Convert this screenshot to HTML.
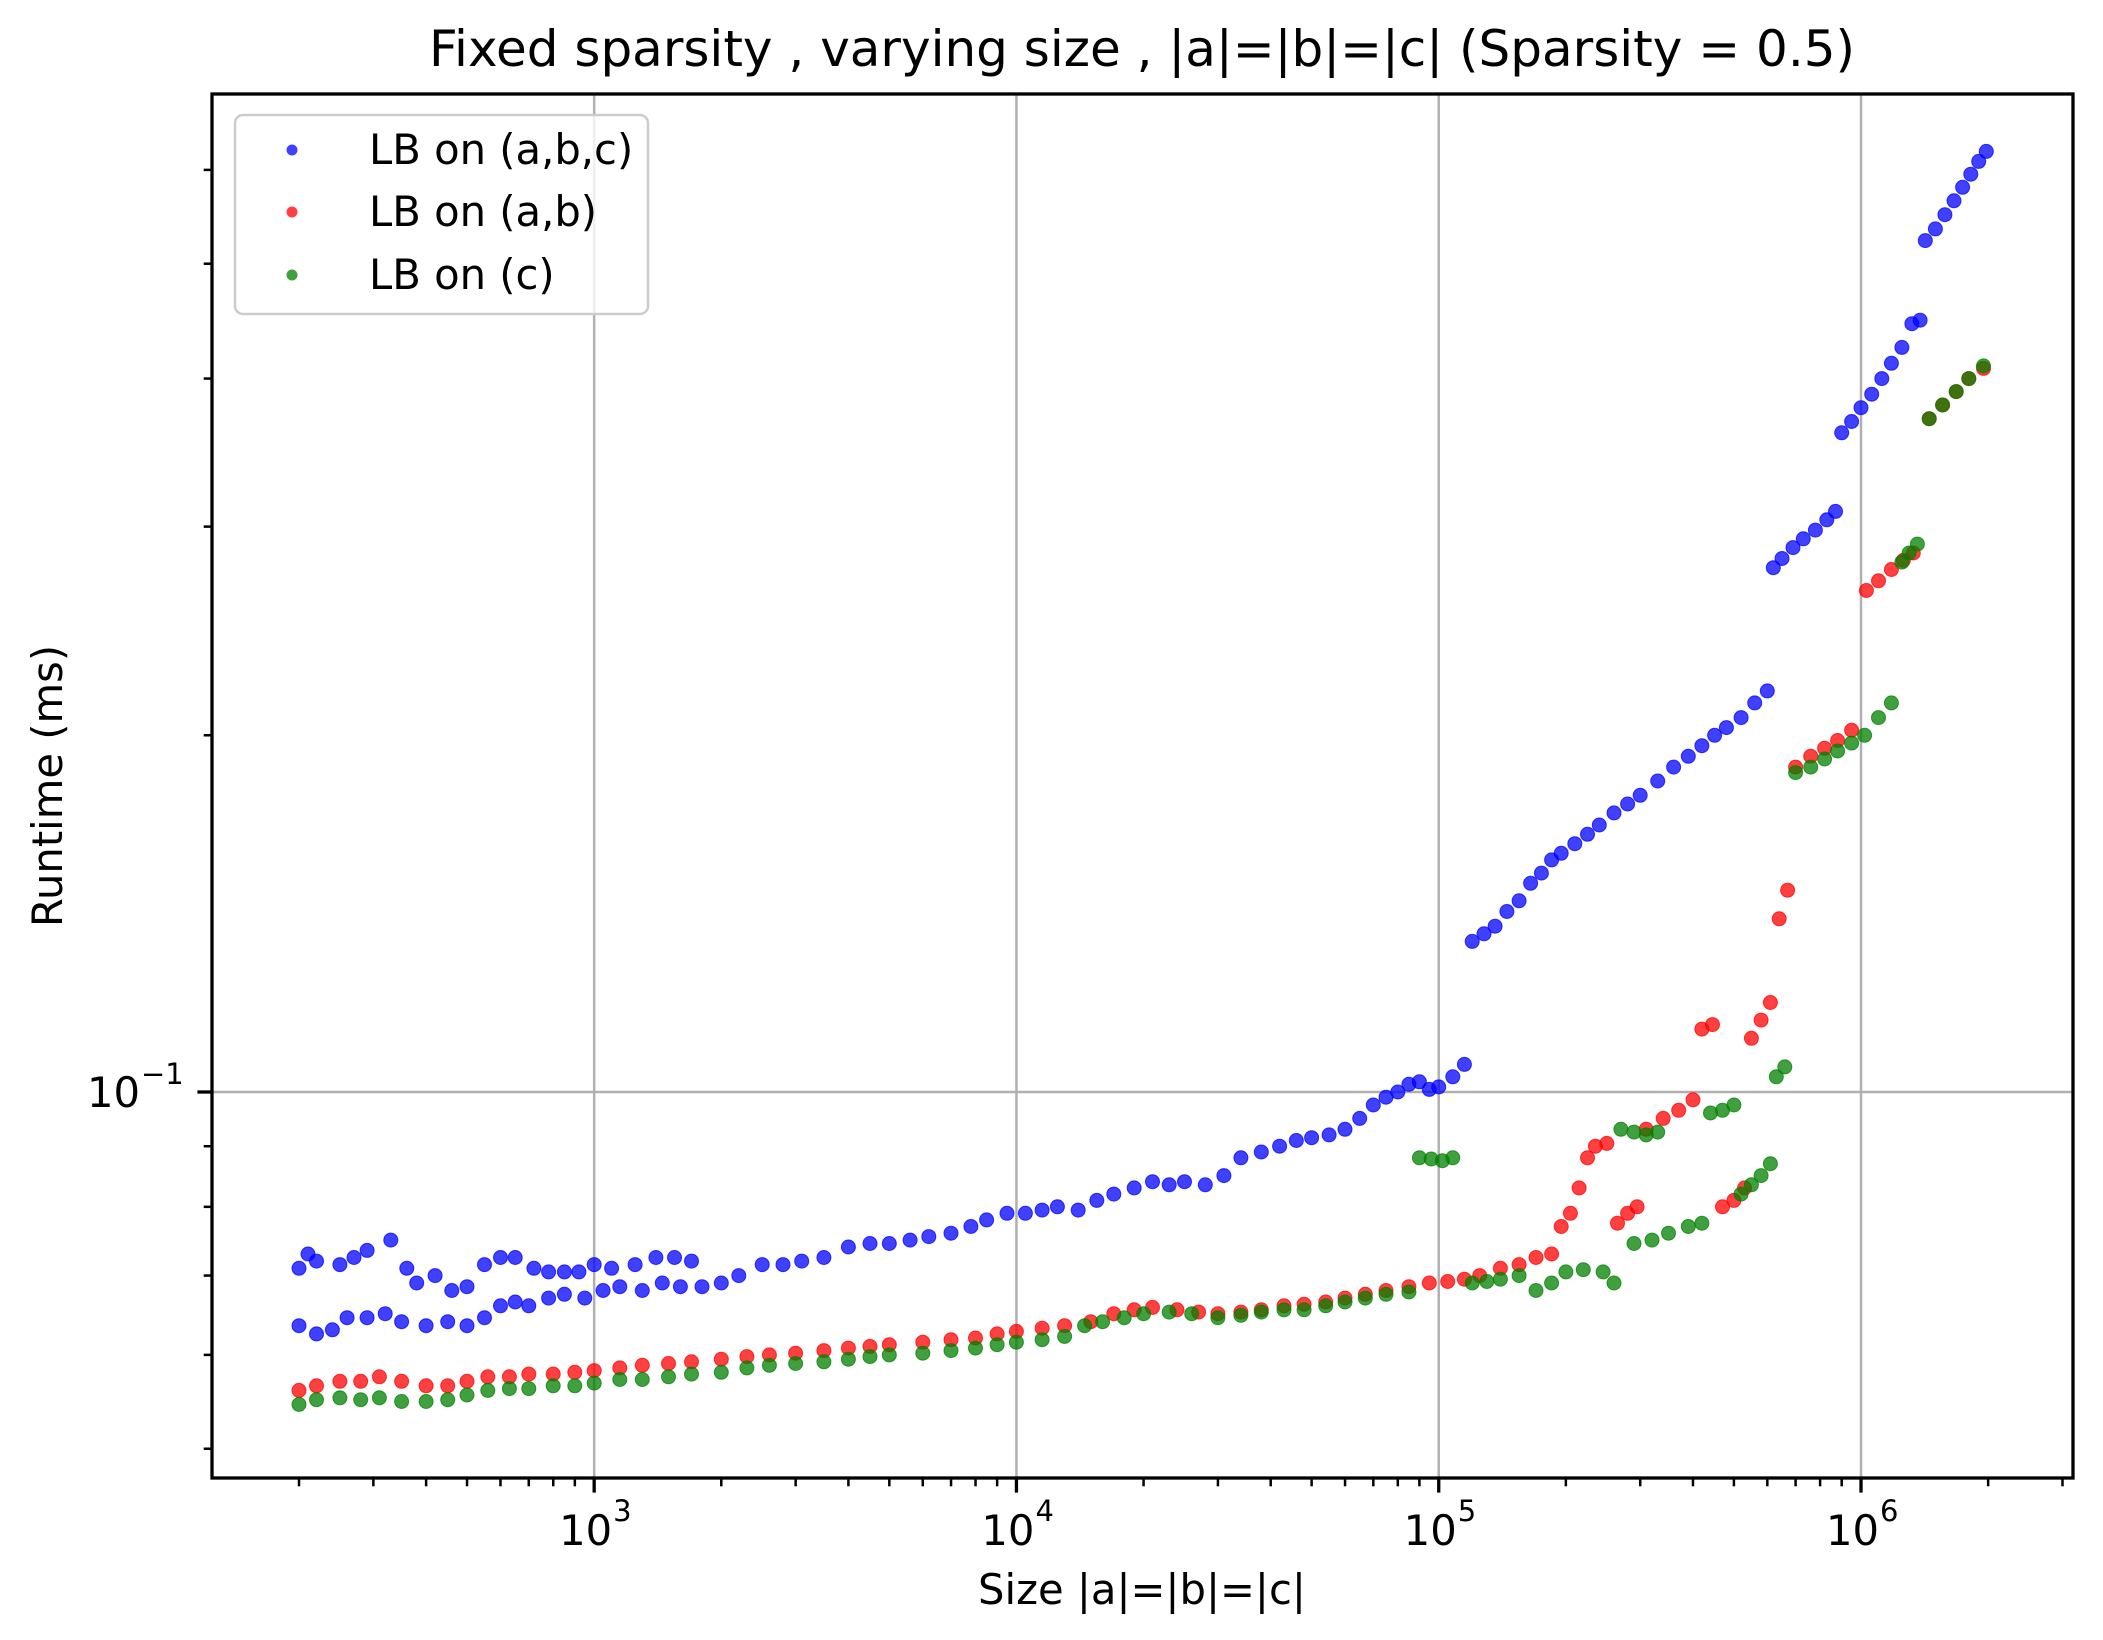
<!DOCTYPE html>
<html><head><meta charset="utf-8"><style>
html,body{margin:0;padding:0;background:#fff}
svg{display:block;font-family:"DejaVu Sans","Liberation Sans",sans-serif}
</style></head><body>
<svg id="chart" width="2103" height="1640" viewBox="0 0 2103 1640" xmlns="http://www.w3.org/2000/svg">
<rect width="2103" height="1640" fill="#fff"/>
<text x="1142" y="66" font-size="50" text-anchor="middle">Fixed sparsity , varying size , |a|=|b|=|c| (Sparsity = 0.5)</text>
<g id="grid"></g>
<g id="marks"></g>
<g id="axes"></g>
<text x="1142" y="1604" font-size="41.7" text-anchor="middle">Size |a|=|b|=|c|</text>
<text x="0" y="0" font-size="41.7" text-anchor="middle" transform="translate(62,786) rotate(-90)">Runtime (ms)</text>
<g id="legend">
<rect x="235" y="115" width="413" height="199" rx="8" fill="#fff" fill-opacity="0.8" stroke="#cccccc" stroke-width="2.5"/>
<circle cx="292" cy="150" r="5.5" fill="#0000ff" fill-opacity="0.75"/>
<text x="369" y="164" font-size="41.7">LB on (a,b,c)</text>
<circle cx="292" cy="212" r="5.5" fill="#ff0000" fill-opacity="0.75"/>
<text x="369" y="226" font-size="41.7">LB on (a,b)</text>
<circle cx="292" cy="275" r="5.5" fill="#008000" fill-opacity="0.75"/>
<text x="369" y="289" font-size="41.7">LB on (c)</text>
</g>
</svg>
<script>
const blueX=[200,210,220,250,270,290,330,360,380,420,460,500,550,600,650,720,780,850,920,1000,1100,1250,1400,1550,1700,
200,220,240,260,290,320,350,400,450,500,550,600,650,700,780,850,950,1050,1150,1300,1450,1600,1800,2000,2200,
2500,2800,3100,3500,4000,4500,5000,5600,6200,7000,7800,8500,9500,10500,11500,12500,14000,15500,17000,19000,21000,23000,25000,28000,31000,34000,38000,42000,46000,50000,55000,60000,65000,70000,75000,80000,85000,90000,95000,100000,108000,115000,
120000,128000,136000,145000,155000,165000,175000,185000,195000,210000,225000,240000,260000,280000,300000,330000,360000,390000,420000,450000,480000,520000,560000,600000,
620000,650000,690000,730000,780000,830000,870000,
900000,950000,1000000,1060000,1120000,1180000,1250000,1320000,1380000,
1420000,1500000,1580000,1660000,1740000,1820000,1900000,1980000];
const blueY=[.071,.073,.072,.0715,.0725,.0735,.075,.071,.069,.070,.068,.0685,.0715,.0725,.0725,.071,.0705,.0705,.0705,.0715,.071,.0715,.0725,.0725,.072,
.0635,.0625,.063,.0645,.0645,.065,.064,.0635,.064,.0635,.0645,.066,.0665,.066,.067,.0675,.067,.068,.0685,.068,.069,.0685,.0685,.069,.070,
.0715,.0715,.072,.0725,.074,.0745,.0745,.075,.0755,.076,.077,.078,.079,.079,.0795,.080,.0795,.081,.082,.083,.084,.0835,.084,.0835,.085,.088,.089,.090,.091,.0915,.092,.093,.095,.0975,.099,.100,.1015,.102,.1005,.101,.103,.1055,
.134,.136,.138,.142,.145,.150,.153,.157,.159,.162,.165,.168,.172,.175,.178,.183,.188,.192,.196,.200,.203,.207,.213,.218,
.277,.282,.288,.293,.298,.304,.309,
.360,.368,.378,.388,.400,.412,.425,.445,.448,
.523,.535,.550,.565,.580,.595,.610,.622];
const redX=[200,220,250,280,310,350,400,450,500,560,630,700,800,900,1000,1150,1300,1500,1700,2000,2300,2600,3000,3500,4000,4500,5000,6000,7000,8000,9000,10000,11500,13000,15000,17000,19000,21000,24000,27000,30000,34000,38000,43000,48000,54000,60000,67000,75000,85000,95000,105000,115000,125000,140000,155000,170000,185000,195000,205000,215000,225000,235000,250000,265000,280000,295000,310000,340000,370000,400000,420000,445000,470000,500000,530000,550000,580000,610000,640000,670000,700000,760000,820000,880000,950000,1030000,1100000,1180000,1260000,1330000,1450000,1560000,1680000,1800000,1950000];
const redY=[.056,.0565,.057,.057,.0575,.057,.0565,.0565,.057,.0575,.0575,.0578,.0578,.058,.0582,.0585,.0588,.059,.0592,.0595,.0598,.060,.0602,.0605,.0608,.061,.0612,.0615,.0618,.062,.0625,.0628,.0632,.0635,.064,.065,.0655,.0658,.0655,.0652,.065,.0652,.0655,.066,.0662,.0665,.067,.0675,.068,.0685,.069,.0692,.0695,.070,.071,.0715,.0725,.073,.077,.079,.083,.088,.090,.0905,.0775,.079,.080,.093,.095,.0965,.0985,.113,.114,.080,.081,.083,.111,.115,.119,.140,.148,.188,.192,.195,.198,.202,.265,.270,.276,.281,.285,.370,.380,.390,.400,.408];
const greenX=[200,220,250,280,310,350,400,450,500,560,630,700,800,900,1000,1150,1300,1500,1700,2000,2300,2600,3000,3500,4000,4500,5000,6000,7000,8000,9000,10000,11500,13000,14500,16000,18000,20000,23000,26000,30000,34000,38000,43000,48000,54000,60000,67000,75000,85000,90000,96000,102000,108000,120000,130000,140000,155000,170000,185000,200000,220000,245000,260000,270000,290000,310000,330000,290000,320000,350000,390000,420000,440000,470000,500000,520000,550000,580000,610000,630000,660000,700000,760000,820000,880000,950000,1020000,1100000,1180000,1250000,1300000,1360000,1450000,1560000,1680000,1800000,1950000];
const greenY=[.0545,.055,.0552,.055,.0552,.0548,.0548,.055,.0555,.056,.0562,.0562,.0565,.0565,.0568,.0572,.0572,.0575,.0578,.058,.0585,.0588,.059,.0592,.0595,.0598,.060,.0602,.0605,.0608,.0612,.0615,.0618,.0622,.0635,.064,.0645,.065,.0652,.065,.0645,.0648,.0652,.0655,.0655,.066,.0665,.067,.0675,.0678,.088,.0878,.0875,.088,.069,.0692,.0695,.070,.068,.069,.0705,.0708,.0705,.069,.093,.0925,.092,.0925,.0745,.075,.076,.077,.0775,.096,.0965,.0975,.082,.0835,.085,.087,.103,.105,.186,.188,.191,.194,.197,.200,.207,.213,.280,.285,.290,.370,.380,.390,.400,.410];
const xTickVals=[1e3,1e4,1e5,1e6];
const xTickLabels=["3","4","5","6"];
const yTickVals=[0.1];
const yTickLabels=["\u22121"];

const L=212,R=2073,T=94,B=1478;
const lx0=2.095,lx1=6.502;
const Y0=0.1,Ypx=1092,Ydec=1185;
const NS="http://www.w3.org/2000/svg";
function xs(v){return L+(Math.log10(v)-lx0)/(lx1-lx0)*(R-L);}
function ys(v){return Ypx-(Math.log10(v)-Math.log10(Y0))*Ydec;}
function mk(tag,attrs,parent){const e=document.createElementNS(NS,tag);for(const k in attrs)e.setAttribute(k,attrs[k]);parent.appendChild(e);return e;}
const grid=document.getElementById('grid'),marks=document.getElementById('marks'),axes=document.getElementById('axes');
xTickVals.forEach(v=>{const l=mk('line',{x1:xs(v),x2:xs(v),y1:T,y2:B,stroke:'#b0b0b0','stroke-width':2.5},grid);

});
yTickVals.forEach(v=>{const l=mk('line',{x1:L,x2:R,y1:ys(v),y2:ys(v),stroke:'#b0b0b0','stroke-width':2.5},grid);

});
function series(X,Y,color,name){const g=mk('g',{},marks);


for(let i=0;i<X.length;i++){const c=mk('circle',{cx:xs(X[i]).toFixed(1),cy:ys(Y[i]).toFixed(1),r:7,fill:color,'fill-opacity':0.75,stroke:color,'stroke-opacity':0.75,'stroke-width':1},g);

}}
series(blueX,blueY,'#0000ff','series-abc');
series(redX,redY,'#ff0000','series-ab');
series(greenX,greenY,'#008000','series-c');
const fr=mk('rect',{x:L,y:T,width:R-L,height:B-T,fill:'none',stroke:'#000','stroke-width':3.3},axes);


for(let d=2;d<=6;d++){for(let m=1;m<=9;m++){const v=m*Math.pow(10,d);const x=xs(v);if(x<L||x>R)continue;
const major=(m===1);const t=mk('line',{x1:x,x2:x,y1:B,y2:B+(major?14.6:8.3),stroke:'#000','stroke-width':major?3.3:2.5},axes);

}}
xTickVals.forEach((v,i)=>{const t=mk('text',{x:xs(v)+18,y:1545,'font-size':41.7,'text-anchor':'end'},axes);


t.textContent='10';
const s=mk('text',{x:xs(v)+19,y:1521,'font-size':29},axes);


s.textContent=xTickLabels[i];});
[0.05,0.06,0.07,0.08,0.09,0.1,0.2,0.3,0.4,0.5,0.6].forEach(v=>{const y=ys(v);if(y<T||y>B)return;const major=Math.abs(v-0.1)<1e-9;
const t=mk('line',{x1:L-(major?14.6:8.3),x2:L,y1:y,y2:y,stroke:'#000','stroke-width':major?3.3:2.5},axes);

});
yTickVals.forEach((v,i)=>{const y=ys(v);const t=mk('text',{x:140,y:y+15,'font-size':41.7,'text-anchor':'end'},axes);


t.textContent='10';
const s=mk('text',{x:141,y:y-8,'font-size':29},axes);


s.textContent=yTickLabels[i];});
</script>
</body></html>
